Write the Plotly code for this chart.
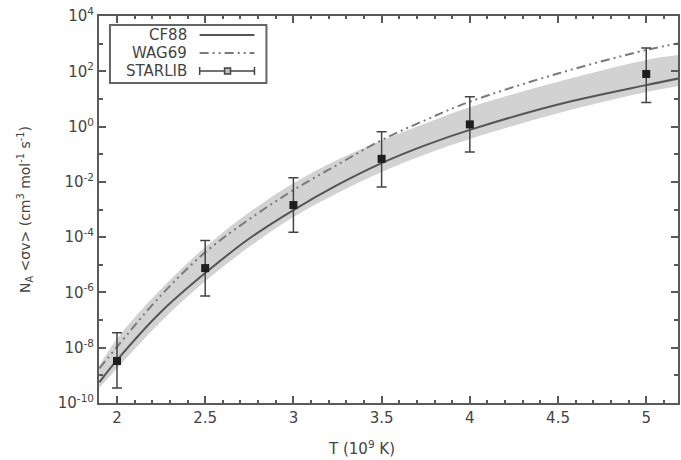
import plotly.graph_objects as go

# ---- data ----
T_grid = [1.9, 2.0, 2.25, 2.5, 2.75, 3.0, 3.25, 3.5, 3.75, 4.0, 4.5, 5.0, 5.2]
cf88 = [10**v for v in [-9.25, -8.45, -6.70, -5.30, -4.05, -3.02, -2.11, -1.32, -0.67, -0.12, 0.80, 1.50, 1.76]]
wag69 = [10**v for v in [-8.75, -7.97, -6.10, -4.55, -3.35, -2.30, -1.38, -0.49, 0.24, 0.90, 1.92, 2.77, 3.03]]
band_hi = [10**v for v in [-8.65, -7.68, -5.88, -4.36, -3.10, -2.05, -1.20, -0.50, 0.12, 0.70, 1.62, 2.41, 2.60]]
band_lo = [10**v for v in [-9.45, -8.75, -7.05, -5.60, -4.35, -3.27, -2.40, -1.64, -1.00, -0.45, 0.48, 1.25, 1.48]]

T_star = [2.0, 2.5, 3.0, 3.5, 4.0, 5.0]
star = [3.3e-9, 7.6e-6, 1.45e-3, 6.8e-2, 1.2, 80.0]
star_hi = [3.5e-8, 7.5e-5, 1.4e-2, 6.5e-1, 12.0, 700.0]
star_lo = [3.5e-10, 7.5e-7, 1.5e-4, 6.5e-3, 0.12, 7.5]

y_tickvals = [1e-10, 1e-8, 1e-6, 1e-4, 1e-2, 1e0, 1e2, 1e4]
y_ticktext = ["10<sup>-10</sup>", "10<sup>-8</sup>", "10<sup>-6</sup>", "10<sup>-4</sup>",
              "10<sup>-2</sup>", "10<sup>0</sup>", "10<sup>2</sup>", "10<sup>4</sup>"]
y_minor = [1e-9, 1e-7, 1e-5, 1e-3, 1e-1, 1e1, 1e3]
x_tickvals = [2, 2.5, 3, 3.5, 4, 4.5, 5]
x_ticktext = ["2", "2.5", "3", "3.5", "4", "4.5", "5"]

legend_labels = ["CF88", "WAG69", "STARLIB"]

AX = "#5a5a5a"
TXT = "#444444"
FONT = "DejaVu Sans"
WAG_DASH = "9px,4px,2px,4px,2px,4px"

fig = go.Figure()
fig.add_trace(go.Scatter(x=T_grid, y=band_lo, mode="lines", line=dict(width=0, shape="spline"),
                         showlegend=False, hoverinfo="skip"))
fig.add_trace(go.Scatter(x=T_grid, y=band_hi, mode="lines", line=dict(width=0, shape="spline"),
                         fill="tonexty", fillcolor="#d2d2d2", showlegend=False, hoverinfo="skip"))
fig.add_trace(go.Scatter(x=T_grid, y=wag69, mode="lines", name="WAG69",
                         line=dict(color="#7a7a7a", width=2, shape="spline", dash=WAG_DASH),
                         showlegend=False))
fig.add_trace(go.Scatter(x=T_grid, y=cf88, mode="lines", name="CF88",
                         line=dict(color="#555555", width=2, shape="spline"), showlegend=False))
fig.add_trace(go.Scatter(
    x=T_star, y=star, mode="markers", name="STARLIB",
    marker=dict(symbol="square", size=8, color="#1e1e1e"),
    error_y=dict(type="data", symmetric=False,
                 array=[h - v for h, v in zip(star_hi, star)],
                 arrayminus=[v - l for v, l in zip(star, star_lo)],
                 color="#444444", thickness=1.5, width=5),
    showlegend=False))

# ---- custom gnuplot-style legend (paper coordinates) ----
L, B, W, H = 99, 403, 581, 387
def px(x):
    return (x - L) / W
def py(y):
    return (B - y) / H

shapes = [dict(type="rect", xref="paper", yref="paper", x0=px(110), x1=px(267), y0=py(83), y1=py(25),
               line=dict(color="#666666", width=2), fillcolor="white", layer="above")]
rows_y = [35, 53, 71]
shapes.append(dict(type="line", xref="paper", yref="paper", x0=px(200), x1=px(255), y0=py(rows_y[0]), y1=py(rows_y[0]),
                   line=dict(color="#555555", width=2), layer="above"))
shapes.append(dict(type="line", xref="paper", yref="paper", x0=px(200), x1=px(255), y0=py(rows_y[1]), y1=py(rows_y[1]),
                   line=dict(color="#7a7a7a", width=2, dash=WAG_DASH), layer="above"))
shapes.append(dict(type="line", xref="paper", yref="paper", x0=px(200), x1=px(255), y0=py(rows_y[2]), y1=py(rows_y[2]),
                   line=dict(color="#444444", width=1.5), layer="above"))
for xx in (200, 255):
    shapes.append(dict(type="line", xref="paper", yref="paper", x0=px(xx), x1=px(xx),
                       y0=py(rows_y[2] - 4), y1=py(rows_y[2] + 4),
                       line=dict(color="#444444", width=1.5), layer="above"))
shapes.append(dict(type="rect", xref="paper", yref="paper", x0=px(225), x1=px(231),
                   y0=py(rows_y[2] + 3), y1=py(rows_y[2] - 3),
                   line=dict(color="#444444", width=1.5), fillcolor="#bbbbbb", layer="above"))

annotations = []
for lab, yy in zip(legend_labels, rows_y):
    annotations.append(dict(text=lab, xref="paper", yref="paper", x=px(189), y=py(yy),
                            xanchor="right", yanchor="middle", showarrow=False,
                            font=dict(family=FONT, size=15, color=TXT)))
annotations.append(dict(text="T (10<sup>9</sup> K)", xref="paper", yref="paper",
                        x=px(362), y=py(448), xanchor="center", yanchor="middle", showarrow=False,
                        font=dict(family=FONT, size=15, color=TXT)))

fig.update_layout(
    width=681, height=460,
    margin=dict(l=99, r=1, t=16, b=57),
    paper_bgcolor="white", plot_bgcolor="white",
    font=dict(family=FONT, size=15, color=TXT),
    shapes=shapes, annotations=annotations,
    showlegend=False,
)
fig.update_xaxes(
    range=[1.898, 5.18], tickvals=x_tickvals, ticktext=x_ticktext,
    ticks="inside", ticklen=7, tickwidth=1.5, tickcolor=AX,
    minor=dict(ticks="inside", ticklen=3, dtick=0.1, tick0=0, tickcolor=AX, showgrid=False),
    showline=True, linecolor=AX, linewidth=2, mirror="ticks",
    showgrid=False, zeroline=False,
    tickfont=dict(family=FONT, size=15, color=TXT),
)
fig.update_yaxes(
    type="log", range=[-10, 4], tickvals=y_tickvals, ticktext=y_ticktext,
    ticks="inside", ticklen=7, tickwidth=1.5, tickcolor=AX,
    minor=dict(ticks="inside", ticklen=4, tickvals=y_minor, tickcolor=AX, showgrid=False),
    showline=True, linecolor=AX, linewidth=2, mirror="ticks",
    showgrid=False, zeroline=False,
    tickfont=dict(family=FONT, size=15, color=TXT),
    title=dict(text="N<sub>A</sub> &lt;σv&gt; (cm<sup>3</sup> mol<sup>-1</sup> s<sup>-1</sup>)",
               font=dict(family=FONT, size=14, color=TXT), standoff=24),
)

fig.write_html("out.html")
